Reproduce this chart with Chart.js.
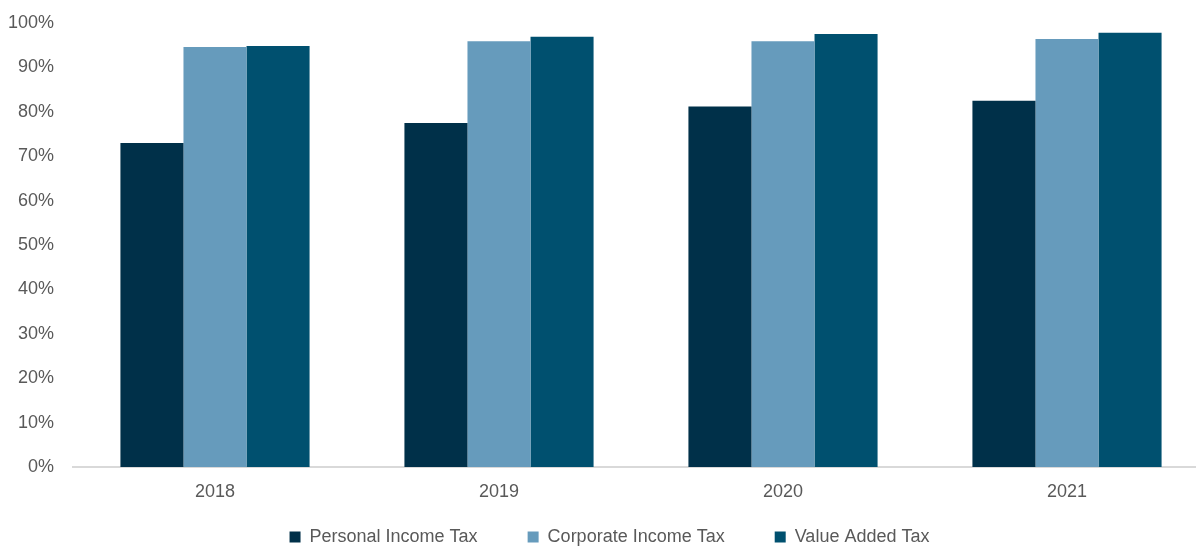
<!DOCTYPE html>
<html>
<head>
  <title>Tax Compliance by Year</title>
  <script src="https://cdn.jsdelivr.net/npm/chart.js@4/dist/chart.umd.min.js"></script>
  <style>
    html, body { margin: 0; padding: 0; background: #fff; overflow: hidden; }
    #wrap { position: relative; width: 1209px; height: 581px; }
  </style>
  <script>
    var years = ['2018', '2019', '2020', '2021'];
    var seriesNames = ['Personal Income Tax', 'Corporate Income Tax', 'Value Added Tax'];
    var personalIncome = [73.0, 77.5, 81.2, 82.5];
    var corporateIncome = [94.6, 95.9, 95.9, 96.4];
    var valueAdded = [94.8, 96.9, 97.5, 97.8];
    var yTicks = [0, 10, 20, 30, 40, 50, 60, 70, 80, 90, 100];

    var colors = ['#003049', '#669bbc', '#00506f'];
    var textColor = '#595959';
    var font = { family: '"Liberation Sans", Arial, sans-serif', size: 18 };

    // moves the legend up after layout
    var legendNudge = {
      id: 'legendNudge',
      afterLayout: function (chart) {
        var lg = chart.legend;
        lg.top -= 25; lg.bottom -= 25;
        lg.left += 1; lg.right += 1;
      }
    };

    function drawChart() {
      var ctx = document.getElementById('taxChart').getContext('2d');
      var values = [personalIncome, corporateIncome, valueAdded];

      var datasets = seriesNames.map(function (name, i) {
        return {
          label: name,
          data: values[i],
          backgroundColor: colors[i],
          borderWidth: 0,
          categoryPercentage: 0.666,
          barPercentage: 1
        };
      });

      return new Chart(ctx, {
        type: 'bar',
        data: { labels: years, datasets: datasets },
        plugins: [legendNudge],
        options: {
          responsive: true,
          maintainAspectRatio: false,
          animation: false,
          layout: { padding: { top: 23, left: 8, right: 0, bottom: 0 } },
          plugins: {
            tooltip: { enabled: false },
            legend: {
              position: 'bottom',
              labels: {
                boxWidth: 11,
                boxHeight: 11,
                padding: 50,
                color: textColor,
                font: font
              }
            }
          },
          scales: {
            x: {
              grid: { display: false, drawTicks: false },
              border: { display: true, color: '#d9d9d9', width: 2 },
              ticks: { color: textColor, font: font, padding: 14 },
              afterFit: function (scale) { scale.height = 36; }
            },
            y: {
              min: 0,
              max: 100,
              grid: { display: false, drawTicks: false },
              border: { display: false },
              afterBuildTicks: function (scale) {
                scale.ticks = yTicks.map(function (v) { return { value: v }; });
              },
              ticks: {
                color: textColor,
                font: font,
                padding: 19,
                callback: function (v) { return v + '%'; }
              },
              afterFit: function (scale) {
                scale.width = 65;
                scale.paddingTop = 0;
                scale.paddingBottom = 0;
              }
            }
          }
        }
      });
    }
    window.onload = drawChart;
  </script>
</head>
<body>
  <div id="wrap"><canvas id="taxChart"></canvas></div>
</body>
</html>
